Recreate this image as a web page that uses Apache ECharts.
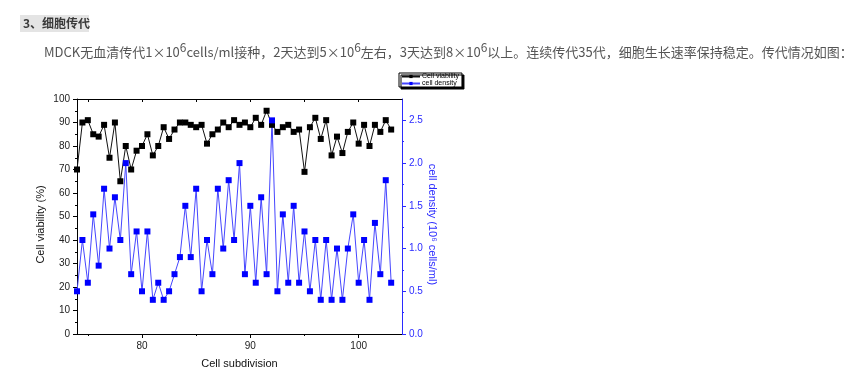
<!DOCTYPE html>
<html><head><meta charset="utf-8">
<script src="https://cdn.jsdelivr.net/npm/echarts@6/dist/echarts.min.js"></script>
<style>html,body{margin:0;padding:0;background:#fff}#c{width:855px;height:387px}</style>
</head><body><div id="c"></div>
<script>
const passages = [74, 74.5, 75, 75.5, 76, 76.5, 77, 77.5, 78, 78.5,
  79, 79.5, 80, 80.5, 81, 81.5, 82, 82.5, 83, 83.5,
  84, 84.5, 85, 85.5, 86, 86.5, 87, 87.5, 88, 88.5,
  89, 89.5, 90, 90.5, 91, 91.5, 92, 92.5, 93, 93.5,
  94, 94.5, 95, 95.5, 96, 96.5, 97, 97.5, 98, 98.5,
  99, 99.5, 100, 100.5, 101, 101.5, 102, 102.5, 103];
const viability = [70, 90, 91, 85, 84, 89, 75, 90, 65, 80,
  70, 78, 80, 85, 76, 80, 88, 83, 87, 90,
  90, 89, 88, 89, 81, 85, 87, 90, 88, 91,
  89, 90, 88, 92, 89, 95, 89, 86, 88, 89,
  86, 87, 69, 88, 92, 83, 91, 76, 84, 77,
  86, 90, 81, 89, 80, 89, 86, 91, 87];
const density = [0.5, 1.1, 0.6, 1.4, 0.8, 1.7, 1.0, 1.6, 1.1, 2.0,
  0.7, 1.2, 0.5, 1.2, 0.4, 0.6, 0.4, 0.5, 0.7, 0.9,
  1.5, 0.9, 1.7, 0.5, 1.1, 0.7, 1.7, 1.0, 1.8, 1.1,
  2.0, 0.7, 1.5, 0.6, 1.6, 0.7, 2.5, 0.5, 1.4, 0.6,
  1.5, 0.6, 1.2, 0.5, 1.1, 0.4, 1.1, 0.4, 1.0, 0.4,
  1.0, 1.4, 0.6, 1.1, 0.4, 1.3, 0.7, 1.8, 0.6];
const xMajorTicks = [80, 90, 100];
const xMinorTicks = [75, 85, 95];
const xTopTicks = [75, 80, 85, 90, 95, 100];
const rightMajorTicks = [0, 0.5, 1.0, 1.5, 2.0, 2.5];
const rightMinorTicks = [0.25, 0.75, 1.25, 1.75, 2.25];

const FONT = '"Liberation Sans", Arial, sans-serif';
const CJK = '"Noto Sans CJK SC", sans-serif';
const BLUE = '#2b2bff';

const chart = echarts.init(document.getElementById('c'), null, {renderer: 'canvas'});
chart.setOption({
  animation: false,
  backgroundColor: '#fff',
  textStyle: {fontFamily: FONT},
  graphic: [
    {type: 'rect', shape: {x: 20, y: 15, width: 69, height: 17}, style: {fill: '#e4e4e4'}},
    {type: 'text', x: 23, y: 17, style: {text: '3、细胞传代', font: 'bold 12px ' + CJK, fill: '#3a3a3a'}},
    {type: 'text', x: 44, y: 43, style: {
      text: 'MDCK无血清传代1×10{s|6}cells/ml接种，2天达到5×10{s|6}左右，3天达到8×10{s|6}以上。连续传代35代，细胞生长速率保持稳定。传代情况如图：',
      fontSize: 13, fontFamily: CJK, fill: '#555', lineHeight: 18,
      rich: {s: {fontSize: 12, fontFamily: CJK, fill: '#555', lineHeight: 18, padding: [0, 0, 9, 0]}}
    }}
  ],
  legend: {
    left: 399, top: 73, orient: 'vertical',
    data: ['Cell viability', 'cell density'],
    itemWidth: 18, itemHeight: 4, itemGap: 0,
    padding: [0, 3, 0, 2],
    backgroundColor: '#fff', borderColor: '#000', borderWidth: 1,
    shadowColor: '#000', shadowOffsetX: 2, shadowOffsetY: 2, shadowBlur: 0,
    textStyle: {fontSize: 7, lineHeight: 7, color: '#000', fontFamily: FONT, padding: [0, 0, 0, -3]}
  },
  grid: {left: 77, right: 453, top: 99, bottom: 53, containLabel: false},
  xAxis: [
    {type: 'value', position: 'bottom', min: 74, max: 104,
      name: 'Cell subdivision', nameLocation: 'middle', nameGap: 24,
      nameTextStyle: {fontSize: 11, color: '#111', fontFamily: FONT},
      axisLine: {show: true, onZero: false, lineStyle: {color: '#000', width: 1}},
      axisTick: {show: true, length: 4, customValues: xMajorTicks, lineStyle: {color: '#000'}},
      axisLabel: {customValues: xMajorTicks, fontSize: 10, color: '#222', margin: 7, fontFamily: FONT},
      splitLine: {show: false}},
    {type: 'value', position: 'bottom', min: 74, max: 104, gridIndex: 0,
      axisLine: {show: false, onZero: false},
      axisTick: {show: true, length: 2, customValues: xMinorTicks, lineStyle: {color: '#000'}},
      axisLabel: {show: false}, splitLine: {show: false}},
    {type: 'value', position: 'top', min: 74, max: 104,
      axisLine: {show: true, onZero: false, lineStyle: {color: '#000', width: 1}},
      axisTick: {show: true, inside: true, length: 3, customValues: xTopTicks, lineStyle: {color: '#000'}},
      axisLabel: {show: false}, splitLine: {show: false}}
  ],
  yAxis: [
    {type: 'value', position: 'left', min: 0, max: 100, interval: 10,
      name: 'Cell viability (%)', nameLocation: 'middle', nameGap: 31, nameRotate: 90,
      nameTextStyle: {fontSize: 11, color: '#111', fontFamily: FONT, padding: [0, 16, 0, 0]},
      axisLine: {show: true, onZero: false, lineStyle: {color: '#000', width: 1}},
      axisTick: {show: true, length: 4, lineStyle: {color: '#000'}},
      minorTick: {show: true, splitNumber: 2, length: 2, lineStyle: {color: '#000'}},
      axisLabel: {fontSize: 10, color: '#222', margin: 7, fontFamily: FONT},
      splitLine: {show: false}},
    {type: 'value', position: 'right', min: 0, max: 2.75,
      name: 'cell density (10⁶ cells/ml)', nameLocation: 'middle', nameGap: 25, nameRotate: -90,
      nameTextStyle: {fontSize: 11, color: BLUE, fontFamily: FONT, padding: [0, 0, 0, 16]},
      axisLine: {show: true, onZero: false, lineStyle: {color: BLUE, width: 1}},
      axisTick: {show: true, length: 4, customValues: rightMajorTicks, lineStyle: {color: BLUE}},
      axisLabel: {customValues: rightMajorTicks, fontSize: 10, color: BLUE, margin: 7, fontFamily: FONT,
        formatter: v => v.toFixed(1)},
      splitLine: {show: false}},
    {type: 'value', position: 'right', min: 0, max: 2.75,
      axisLine: {show: false, onZero: false},
      axisTick: {show: true, length: 2, customValues: rightMinorTicks, lineStyle: {color: BLUE}},
      axisLabel: {show: false}, splitLine: {show: false}}
  ],
  series: [
    {name: 'Cell viability', type: 'line', xAxisIndex: 0, yAxisIndex: 0,
      data: passages.map((x, i) => [x, viability[i]]),
      symbol: 'rect', symbolSize: 6, showAllSymbol: true,
      lineStyle: {color: '#111', width: 1},
      itemStyle: {color: '#000', borderWidth: 0}},
    {name: 'cell density', type: 'line', xAxisIndex: 0, yAxisIndex: 1,
      data: passages.map((x, i) => [x, density[i]]),
      symbol: 'rect', symbolSize: 6, showAllSymbol: true,
      lineStyle: {color: '#4646ff', width: 1},
      itemStyle: {color: '#0000ff', borderWidth: 0}}
  ]
});
</script></body></html>
